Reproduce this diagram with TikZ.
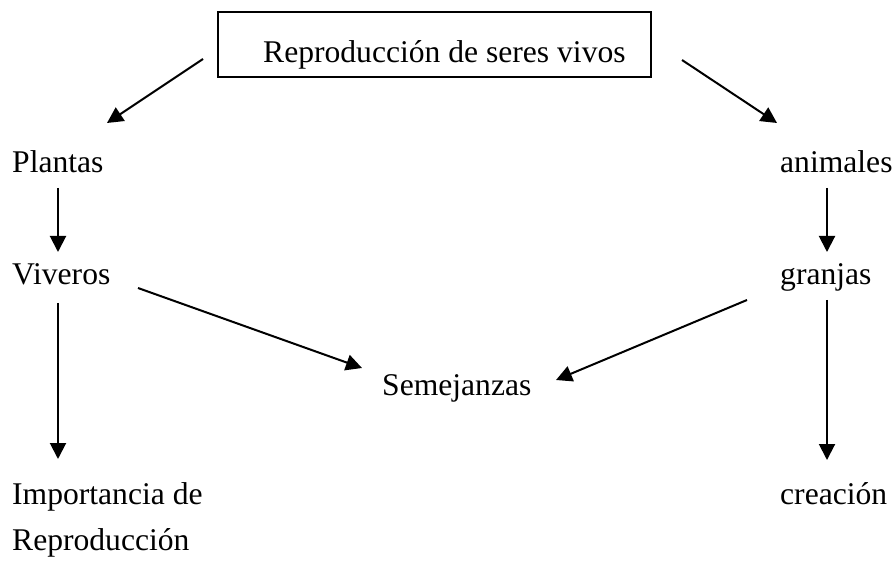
\documentclass[tikz,border=0pt]{standalone}
\usepackage{fontspec}
\setmainfont{Liberation Serif}
\usetikzlibrary{arrows.meta}
\begin{document}
\begin{tikzpicture}[x=1pt,y=1pt,
  lbl/.style={anchor=base west,inner sep=0pt,font=\fontsize{31.6}{38}\selectfont},
  arr/.style={line width=2pt,-{Triangle[length=16pt,width=16pt]}},
  titlebox/.style={draw,line width=1.6pt}]
\useasboundingbox (0,0) rectangle (893,565);
% title box
\draw[titlebox] (218,488) rectangle (651,553);
\node[lbl] (title) at (263,502) {Reproducción de seres vivos};
% left column
\node[lbl] (plantas) at (12,392) {Plantas};
\node[lbl] (viveros) at (12,280) {Viveros};
\node[lbl] (importancia) at (12,61) {Importancia de};
\node[lbl] (reprod) at (12,15) {Reproducción};
% right column
\node[lbl] (animales) at (780,392) {animales};
\node[lbl] (granjas) at (780,280) {granjas};
\node[lbl] (creacion) at (780,61) {creación};
% middle
\node[lbl] (semejanzas) at (382,170) {Semejanzas};
% connector end points
\coordinate (tl1) at (203,506); \coordinate (tl2) at (107,442);
\coordinate (tr1) at (682,505); \coordinate (tr2) at (777,442);
\coordinate (pv1) at (58,377);  \coordinate (pv2) at (58,313);
\coordinate (vi1) at (58,262);  \coordinate (vi2) at (58,106);
\coordinate (ag1) at (827,377); \coordinate (ag2) at (827,313);
\coordinate (gc1) at (827,265); \coordinate (gc2) at (827,105);
\coordinate (vs1) at (138,277); \coordinate (vs2) at (362,197);
\coordinate (gs1) at (747,265); \coordinate (gs2) at (556,185);
\draw[arr] (tl1) -- (tl2);
\draw[arr] (tr1) -- (tr2);
\draw[arr] (pv1) -- (pv2);
\draw[arr] (vi1) -- (vi2);
\draw[arr] (ag1) -- (ag2);
\draw[arr] (gc1) -- (gc2);
\draw[arr] (vs1) -- (vs2);
\draw[arr] (gs1) -- (gs2);
\end{tikzpicture}
\end{document}
